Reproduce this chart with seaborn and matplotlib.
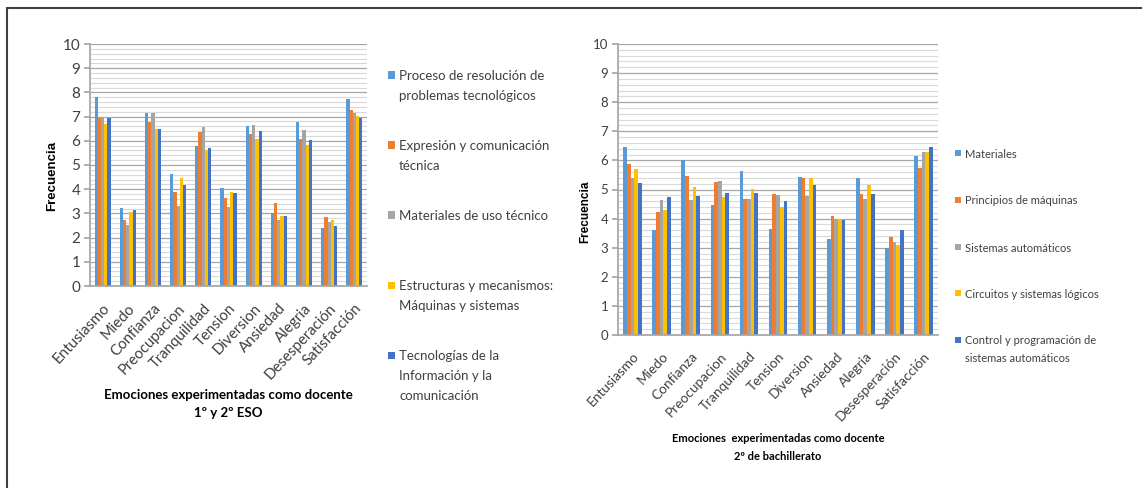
import numpy as np
import pandas as pd
import seaborn as sns
import matplotlib.pyplot as plt
from matplotlib.patches import Rectangle
from matplotlib.lines import Line2D
from matplotlib.ticker import MultipleLocator

sns.set_theme(style="white")
plt.rcParams['font.family'] = ['Lato', 'DejaVu Sans']

# datos
emociones = ["Entusiasmo", "Miedo", "Confianza", "Preocupacion", "Tranquilidad",
             "Tension", "Diversion", "Ansiedad", "Alegria", "Desesperación", "Satisfacción"]

series_eso = ["Proceso de resolución de\nproblemas tecnológicos",
              "Expresión y comunicación\ntécnica",
              "Materiales de uso técnico",
              "Estructuras y mecanismos:\nMáquinas y sistemas",
              "Tecnologías de la\nInformación y la\ncomunicación"]
eso_proceso = [7.79, 3.21, 7.14, 4.62, 5.78, 4.03, 6.61, 3.02, 6.76, 2.41, 7.71]
eso_expresion = [6.95, 2.72, 6.76, 3.90, 6.36, 3.63, 6.29, 3.45, 6.07, 2.87, 7.27]
eso_materiales = [6.97, 2.54, 7.14, 3.30, 6.57, 3.26, 6.65, 2.72, 6.43, 2.66, 7.13]
eso_estructuras = [6.68, 3.06, 6.48, 4.47, 5.63, 3.90, 6.06, 2.90, 5.81, 2.72, 7.02]
eso_tic = [6.95, 3.12, 6.47, 4.17, 5.71, 3.83, 6.40, 2.90, 6.03, 2.46, 6.94]

series_bach = ["Materiales", "Principios de máquinas", "Sistemas automáticos",
               "Circuitos y sistemas lógicos",
               "Control y programación de\nsistemas automáticos"]
bach_materiales = [6.47, 3.61, 6.00, 4.48, 5.63, 3.65, 5.44, 3.31, 5.40, 2.99, 6.15]
bach_principios = [5.86, 4.21, 5.46, 5.25, 4.67, 4.85, 5.38, 4.08, 4.85, 3.37, 5.75]
bach_sistemas = [5.40, 4.63, 4.63, 5.30, 4.67, 4.82, 4.76, 4.00, 4.67, 3.21, 6.30]
bach_circuitos = [5.71, 4.30, 5.09, 4.74, 5.01, 4.39, 5.38, 4.00, 5.14, 3.08, 6.30]
bach_control = [5.22, 4.75, 4.79, 4.87, 4.87, 4.60, 5.17, 3.96, 4.85, 3.61, 6.47]

colores = ["#5B9BD5", "#ED7D31", "#A5A5A5", "#FFC000", "#4472C4"]


def tabla(series, valores):
    filas = []
    for s, vals in zip(series, valores):
        for e, v in zip(emociones, vals):
            filas.append({"emocion": e, "serie": s, "valor": v})
    return pd.DataFrame(filas)


df_eso = tabla(series_eso, [eso_proceso, eso_expresion, eso_materiales, eso_estructuras, eso_tic])
df_bach = tabla(series_bach, [bach_materiales, bach_principios, bach_sistemas, bach_circuitos, bach_control])

W, H = 1142, 488
fig = plt.figure(figsize=(W / 100, H / 100), dpi=100)


def ejes(x0, y0, x1, y1):
    # coordenadas en pixeles (desde arriba)
    return fig.add_axes([x0 / W, 1 - y1 / H, (x1 - x0) / W, (y1 - y0) / H])


def dibujar(ax, df, series, fs_y, fs_x):
    sns.barplot(data=df, x="emocion", y="valor", hue="serie", hue_order=series,
                palette=colores, width=0.64, ax=ax, legend=False,
                saturation=1, linewidth=0)
    ax.set_ylim(0, 10)
    ax.set_xlim(-0.5, len(emociones) - 0.5)
    ax.yaxis.set_major_locator(MultipleLocator(1))
    ax.yaxis.set_minor_locator(MultipleLocator(0.2))
    ax.grid(which="minor", axis="y", color="#d9d9d9", linewidth=0.8)
    ax.grid(which="major", axis="y", color="#a6a6a6", linewidth=0.9)
    ax.set_axisbelow(True)
    for lado in ["top", "right"]:
        ax.spines[lado].set_visible(False)
    ax.spines["left"].set_color("#a6a6a6")
    ax.spines["bottom"].set_color("#a6a6a6")
    ax.tick_params(axis="y", which="major", left=True, length=4, color="#a6a6a6",
                   labelsize=fs_y, labelcolor="#404040", pad=3)
    ax.tick_params(axis="y", which="minor", left=False)
    ax.tick_params(axis="x", bottom=False, labelsize=fs_x, labelcolor="#404040", pad=5)
    ax.set_xticks(range(len(emociones)))
    ax.set_xticklabels(emociones, rotation=47, ha="right", rotation_mode="anchor")
    ax.set_xlabel("")
    ax.set_ylabel("")


def leyenda(series, x, ys, fs, size, interlineado):
    for s, c, y in zip(series, colores, ys):
        fig.patches.append(Rectangle((x / W, 1 - (y + size / 2) / H), size / W, size / H,
                                     transform=fig.transFigure, facecolor=c,
                                     edgecolor="none", figure=fig))
        lineas = s.split("\n")
        for i, linea in enumerate(lineas):
            fig.text((x + size + 4) / W, 1 - (y + i * interlineado) / H, linea,
                     fontsize=fs, color="#404040", va="center_baseline", ha="left")


# grafico 1º y 2º ESO
ax1 = ejes(90, 44, 367, 286)
dibujar(ax1, df_eso, series_eso, 11, 10.8)
fig.text(52 / W, 1 - 176 / H, "Frecuencia", rotation=90, ha="center", va="center",
         fontsize=9.5, fontweight="bold", family="Liberation Sans", color="black")
fig.text(228 / W, 1 - 395 / H, "Emociones experimentadas como docente",
         ha="center", va="center", fontsize=9.5, fontweight="bold", color="black")
fig.text(228 / W, 1 - 413 / H, "1º y 2º ESO",
         ha="center", va="center", fontsize=9.5, fontweight="bold", color="black")
leyenda(series_eso, 388, [75, 145, 215, 285, 355], 9.5, 7, 20)

# grafico 2º bachillerato
ax2 = ejes(618, 44, 938, 335)
dibujar(ax2, df_bach, series_bach, 9.5, 9.8)
fig.text(585 / W, 1 - 212 / H, "Frecuencia", rotation=90, ha="center", va="center",
         fontsize=8.5, fontweight="bold", family="Liberation Sans", color="black")
fig.text(778 / W, 1 - 438 / H, "Emociones  experimentadas como docente",
         ha="center", va="center", fontsize=8, fontweight="bold", color="black")
fig.text(778 / W, 1 - 456 / H, "2º de bachillerato",
         ha="center", va="center", fontsize=8, fontweight="bold", color="black")
leyenda(series_bach, 955, [153, 200, 247, 293, 340], 8, 6, 17)

# marco
fig.add_artist(Line2D([7 / W, 1], [1 - 8 / H, 1 - 8 / H], color="#404040", linewidth=1.5,
                      transform=fig.transFigure))
fig.add_artist(Line2D([7 / W, 7 / W], [0, 1 - 8 / H], color="#404040", linewidth=1.5,
                      transform=fig.transFigure))

fig.savefig("out.png", dpi=100)
